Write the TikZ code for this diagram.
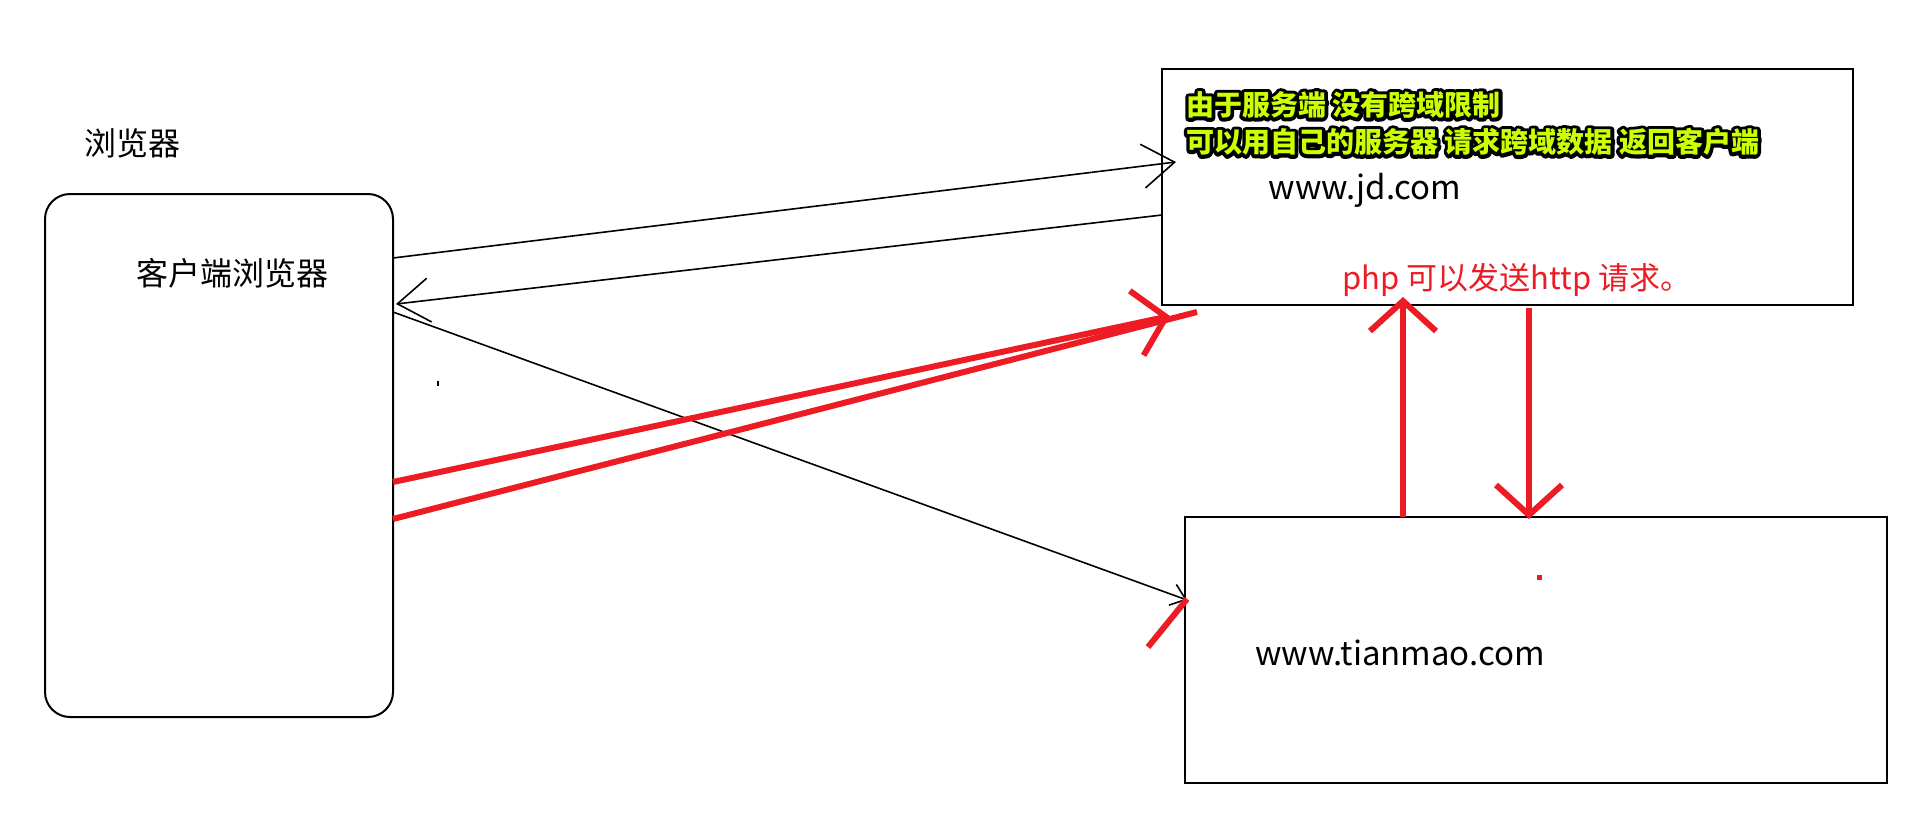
\documentclass[tikz,border=0pt]{standalone}
\usepackage{fontspec}
\setmainfont{Noto Sans CJK SC}
\usetikzlibrary{arrows.meta,positioning}

\definecolor{paintred}{RGB}{237,28,36}
\definecolor{noteyellow}{RGB}{204,255,0}

% stroked copy of a text, used as the black rim of the note
\newcommand{\rimtext}[1]{\special{pdf:literal direct 1 Tr 7 w 1 j}#1\special{pdf:literal direct 0 Tr}}

\tikzset{
  box/.style={draw, line width=2.5pt, inner sep=0pt, outer sep=0pt, anchor=north west},
  txt/.style={inner sep=0pt, font=\fontsize{32}{36}\selectfont},
  urltxt/.style={inner sep=0pt, font=\fontsize{33}{37}\selectfont},
  notetxt/.style={inner sep=0pt, anchor=west, font=\fontsize{28}{32}\selectfont\bfseries},
  thin arrow/.style={line width=1.6pt, -{Straight Barb[length=32pt,width=44pt]}},
  red line/.style={paintred, line width=6pt},
  red arrow/.style={red line, -{Straight Barb[length=30pt,width=66pt]}},
}

\begin{document}
\begin{tikzpicture}[x=1pt, y=-1pt]
    \fill[white] (0,0) rectangle (1928,820);
    \useasboundingbox (0,0) rectangle (1928,820);

    % boxes
    \node[box, line width=2pt, rounded corners=25pt, minimum width=348pt, minimum height=523pt] (client) at (45,194) {};
    \node[box, minimum width=691pt, minimum height=236pt] (jd) at (1162,69) {};
    \node[box, minimum width=702pt, minimum height=266pt] (tm) at (1185,517) {};

    % labels
    \node[txt, anchor=west] (browser) at (84,143) {浏览器};
    \node[txt] (clientname) at (232,273) {客户端浏览器};
    \node[urltxt] (jdname) at (1365,190) {www.jd.com};
    \node[urltxt] (tmname) at (1400,653) {www.tianmao.com};
    \node[txt, font=\fontsize{31}{35}\selectfont, text=paintred] (php) at (1517,280) {php 可以发送http 请求。};
    \foreach \name/\y/\s in {notea/105/由于服务端 没有跨域限制, noteb/142/可以用自己的服务器 请求跨域数据 返回客户端} {
        \node[notetxt, text=black] (\name rim) at (1186,\y) {\rimtext{\s}};
        \node[notetxt, text=noteyellow] (\name) at (1186,\y) {\s};
    }

    % browser <-> jd
    \draw[thin arrow] ([yshift=-64pt]client.north east) -- ([xshift=14pt,yshift=-93pt]jd.north west);
    \draw[thin arrow] ([yshift=-146pt]jd.north west) -- ([xshift=3pt,yshift=-110pt]client.north east);
    % browser -> tianmao
    \draw[line width=1.6pt, -{Straight Barb[length=14pt,width=22pt]}] ([yshift=-118pt]client.north east) -- ([xshift=2pt,yshift=-83pt]tm.north west);
    \draw[red line] ([xshift=-37pt,yshift=-130pt]tm.north west) -- ([xshift=2pt,yshift=-82pt]tm.north west);

    % red: browser -> jd, jd <-> tianmao
    \draw[red arrow] ([yshift=-288pt]client.north east) -- ([xshift=8pt,yshift=-11pt]jd.south west);
    \draw[red line] ([yshift=-325pt]client.north east) -- ([xshift=35pt,yshift=-7pt]jd.south west);
    \draw[red arrow] ([xshift=218pt]tm.north west) -- ([xshift=241pt,yshift=8pt]jd.south west);
    \draw[red arrow] ([xshift=367pt,yshift=-3pt]jd.south west) -- ([xshift=344pt,yshift=-2pt]tm.north west);

    % stray marks
    \fill (437,381) rectangle (439,386);
    \fill[paintred] (1537,575) rectangle (1542,580);
\end{tikzpicture}
\end{document}
